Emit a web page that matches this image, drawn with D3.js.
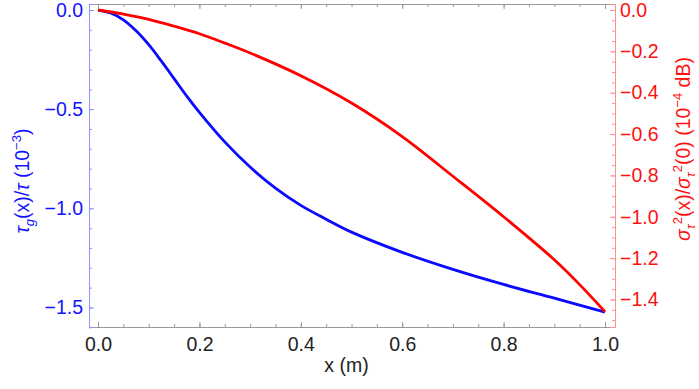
<!DOCTYPE html>
<html>
<head>
<meta charset="utf-8">
<script src="https://cdn.jsdelivr.net/npm/d3@7"></script>
<style>
  body { margin: 0; background: #fff; }
  svg { display: block; font-family: "Liberation Sans", Arial, sans-serif; }
  .domain { stroke-width: 1; }
</style>
</head>
<body>
<div id="wrapper"></div>
<script>
// data
const xValuesBlue = [0, 0.025, 0.05, 0.075, 0.1, 0.125, 0.15, 0.175, 0.2, 0.25, 0.3, 0.35, 0.4, 0.45, 0.5, 0.6, 0.7, 0.8, 0.9, 1.0]
const tauG = [0, -0.015, -0.05, -0.105, -0.175, -0.258, -0.346, -0.434, -0.516, -0.665, -0.792, -0.898, -0.985, -1.055, -1.12, -1.222, -1.308, -1.384, -1.453, -1.523]

const xValuesRed = [0, 0.05, 0.1, 0.15, 0.2, 0.25, 0.3, 0.4, 0.5, 0.6, 0.7, 0.8, 0.9, 0.95, 1.0]
const sigmaRatio = [0, -0.02, -0.045, -0.078, -0.115, -0.16, -0.208, -0.318, -0.45, -0.612, -0.804, -1.0, -1.208, -1.328, -1.459]

const xMajor = [0, 0.2, 0.4, 0.6, 0.8, 1.0]
const xMinor = d3.range(0, 21).map(i => i * 0.05)
const leftMajor = [0, -0.5, -1.0, -1.5]
const leftMinor = d3.range(0, 17).map(i => -i * 0.1)
const rightMajor = [0, -0.2, -0.4, -0.6, -0.8, -1.0, -1.2, -1.4]
const rightMinor = d3.range(0, 31).map(i => -i * 0.05)

const blueData = xValuesBlue.map((x, i) => ({x, y: tauG[i]}))
const redData = xValuesRed.map((x, i) => ({x, y: sigmaRatio[i]}))

let dimensions = {
  width: 699,
  height: 389,
  margin: {top: 4, right: 84, bottom: 62, left: 89}
}
dimensions.boundedWidth = dimensions.width - dimensions.margin.left - dimensions.margin.right
dimensions.boundedHeight = dimensions.height - dimensions.margin.top - dimensions.margin.bottom

const xScale = d3.scaleLinear()
  .domain([-0.0178, 1.0197])
  .range([0, dimensions.boundedWidth])

const yLeft = d3.scaleLinear()
  .domain([-1.5985, 0.0303])
  .range([dimensions.boundedHeight, 0])

const yRight = d3.scaleLinear()
  .domain([-1.533, 0.029])
  .range([dimensions.boundedHeight, 0])

const blueCol = "#1414ff"
const redCol = "#ff1010"
const fontSize = "19.5px"

const wrapper = d3.select("#wrapper")
  .append("svg")
  .attr("width", dimensions.width)
  .attr("height", dimensions.height)

const bounds = wrapper.append("g")
  .attr("transform", `translate(${dimensions.margin.left},${dimensions.margin.top})`)

// curves
const lineBlue = d3.line()
  .x(d => xScale(d.x))
  .y(d => yLeft(d.y))
  .curve(d3.curveCatmullRom.alpha(0.5))

const lineRed = d3.line()
  .x(d => xScale(d.x))
  .y(d => yRight(d.y))
  .curve(d3.curveCatmullRom.alpha(0.5))

bounds.append("path")
  .attr("d", lineBlue(blueData))
  .attr("fill", "none")
  .attr("stroke", "#0a0aff")
  .attr("stroke-width", 2.8)

bounds.append("path")
  .attr("d", lineRed(redData))
  .attr("fill", "none")
  .attr("stroke", "#ff0000")
  .attr("stroke-width", 2.8)

// axes: minor ticks first, then major ticks with labels
function styleAxis(g, lineCol, textCol) {
  g.selectAll(".domain").attr("stroke", lineCol)
  g.selectAll(".tick line").attr("stroke", lineCol)
  g.selectAll(".tick text").attr("fill", textCol).style("font-size", fontSize)
  g.attr("font-family", null)
}

const fmt = d3.format(".1f")

// bottom
const bottomMinor = bounds.append("g")
  .attr("transform", `translate(0,${dimensions.boundedHeight})`)
  .call(d3.axisBottom(xScale).tickValues(xMinor).tickSize(-3).tickFormat(""))
styleAxis(bottomMinor, "#999", "#222")
const bottomAxis = bounds.append("g")
  .attr("transform", `translate(0,${dimensions.boundedHeight})`)
  .call(d3.axisBottom(xScale).tickValues(xMajor).tickSize(-5).tickPadding(10).tickFormat(fmt))
styleAxis(bottomAxis, "#999", "#222")

// top
const topMinor = bounds.append("g")
  .call(d3.axisTop(xScale).tickValues(xMinor).tickSize(-3).tickFormat(""))
styleAxis(topMinor, "#999", "#222")
const topAxis = bounds.append("g")
  .call(d3.axisTop(xScale).tickValues(xMajor).tickSize(-5).tickFormat(""))
styleAxis(topAxis, "#999", "#222")

// left
const leftMinorG = bounds.append("g")
  .call(d3.axisLeft(yLeft).tickValues(leftMinor).tickSize(-3).tickFormat(""))
styleAxis(leftMinorG, "#9090ff", blueCol)
const leftAxis = bounds.append("g")
  .call(d3.axisLeft(yLeft).tickValues(leftMajor).tickSize(-5).tickPadding(6).tickFormat(fmt))
styleAxis(leftAxis, "#9090ff", blueCol)

// right
const rightMinorG = bounds.append("g")
  .attr("transform", `translate(${dimensions.boundedWidth},0)`)
  .call(d3.axisRight(yRight).tickValues(rightMinor).tickSize(-3).tickFormat(""))
styleAxis(rightMinorG, "#ff9090", redCol)
const rightAxis = bounds.append("g")
  .attr("transform", `translate(${dimensions.boundedWidth},0)`)
  .call(d3.axisRight(yRight).tickValues(rightMajor).tickSize(-5).tickPadding(5).tickFormat(fmt))
styleAxis(rightAxis, "#ff9090", redCol)

// axis labels
wrapper.append("text")
  .attr("x", dimensions.margin.left + xScale(0.49))
  .attr("y", 372)
  .attr("text-anchor", "middle")
  .style("font-size", fontSize)
  .attr("fill", "#222")
  .text("x (m)")

const leftLabel = wrapper.append("text")
  .attr("transform", "translate(29,181) rotate(-90)")
  .attr("text-anchor", "middle")
  .style("font-size", fontSize)
  .attr("fill", blueCol)
leftLabel.append("tspan").attr("font-style", "italic").text("τ")
leftLabel.append("tspan").attr("font-style", "italic").attr("dy", 5).style("font-size", "13px").text("g")
leftLabel.append("tspan").attr("dy", -5).text("(x)/")
leftLabel.append("tspan").attr("font-style", "italic").text("τ")
leftLabel.append("tspan").text(" (10")
leftLabel.append("tspan").attr("dy", -8).style("font-size", "13px").text("−3")
leftLabel.append("tspan").attr("dy", 8).text(")")

const rightLabel = wrapper.append("text")
  .attr("transform", "translate(690,149) rotate(-90)")
  .attr("text-anchor", "middle")
  .style("font-size", fontSize)
  .attr("fill", redCol)
rightLabel.append("tspan").attr("font-style", "italic").text("σ")
rightLabel.append("tspan").attr("font-style", "italic").attr("dy", 5).style("font-size", "13px").text("τ")
rightLabel.append("tspan").attr("dy", -13).style("font-size", "13px").text("2")
rightLabel.append("tspan").attr("dy", 8).text("(x)/")
rightLabel.append("tspan").attr("font-style", "italic").text("σ")
rightLabel.append("tspan").attr("font-style", "italic").attr("dy", 5).style("font-size", "13px").text("τ")
rightLabel.append("tspan").attr("dy", -13).style("font-size", "13px").text("2")
rightLabel.append("tspan").attr("dy", 8).text("(0) (10")
rightLabel.append("tspan").attr("dy", -8).style("font-size", "13px").text("−4")
rightLabel.append("tspan").attr("dy", 8).text(" dB)")
</script>
</body>
</html>
